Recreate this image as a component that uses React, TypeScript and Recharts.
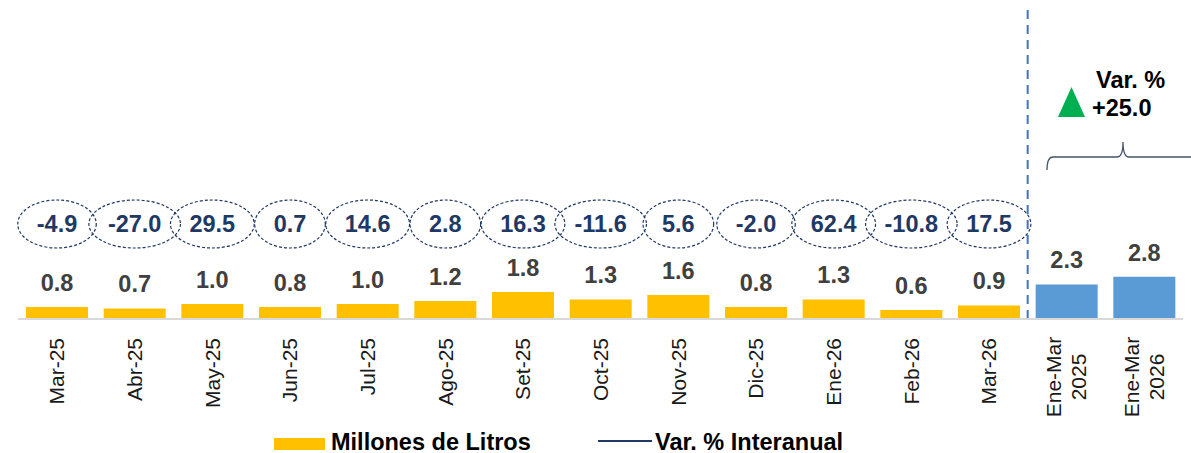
import { ComposedChart, Bar, XAxis, YAxis, Cell, LabelList, Legend, ReferenceLine } from "recharts";

const FONT = "'Liberation Sans', Arial, sans-serif";
const AMARILLO = "#FFC000";
const AZUL = "#5B9BD5";
const NAVY = "#1F3864";

const meses = [
  "Mar-25", "Abr-25", "May-25", "Jun-25", "Jul-25", "Ago-25", "Set-25",
  "Oct-25", "Nov-25", "Dic-25", "Ene-26", "Feb-26", "Mar-26",
  "Ene-Mar\n2025", "Ene-Mar\n2026",
];
const litros = [0.8, 0.7, 1.0, 0.8, 1.0, 1.2, 1.8, 1.3, 1.6, 0.8, 1.3, 0.6, 0.9, 2.3, 2.8];
const varInteranual = [-4.9, -27.0, 29.5, 0.7, 14.6, 2.8, 16.3, -11.6, 5.6, -2.0, 62.4, -10.8, 17.5];
const varAcumulada = "+25.0";

const data = meses.map((mes, i) => ({
  mes,
  litros: litros[i],
  var: i < varInteranual.length ? varInteranual[i] : null,
  acumulado: i >= varInteranual.length,
}));

// ancho aproximado de Arial bold para los numeros
function anchoTexto(s: string, fs: number) {
  let w = 0;
  for (const c of s) w += c === "." ? 0.278 : c === "-" ? 0.333 : 0.556;
  return w * fs;
}

function Elipse(props: any) {
  const { x, width, value } = props;
  if (value == null) return null;
  const txt = Number(value).toFixed(1);
  const cx = Number(x) + Number(width) / 2;
  const cy = 224;
  const rx = anchoTexto(txt, 23.5) / 2 + 19;
  return (
    <g>
      <ellipse cx={cx} cy={cy} rx={rx} ry={24} fill="none" stroke={NAVY} strokeWidth={1.2} strokeDasharray="3 2" />
      <text x={cx} y={cy} dy="0.36em" textAnchor="middle" fontFamily={FONT} fontWeight="bold" fontSize={23.5} fill={NAVY}>
        {txt}
      </text>
    </g>
  );
}

function MesTick({ x, y, payload }: any) {
  const lines = String(payload.value).split("\n");
  if (lines.length === 1) {
    return (
      <text transform={`translate(${x},${y + 19}) rotate(-90)`} textAnchor="end" dy="0.35em" fontFamily={FONT} fontSize={21} fill="#1a1a1a">
        {lines[0]}
      </text>
    );
  }
  return (
    <g transform={`translate(${x},${y + 58}) rotate(-90)`}>
      {lines.map((l, i) => (
        <text key={i} x={0} y={(i - (lines.length - 1) / 2) * 25} dy="0.35em" textAnchor="middle" fontFamily={FONT} fontSize={21} fill="#1a1a1a">
          {l}
        </text>
      ))}
    </g>
  );
}

function Leyenda() {
  return (
    <div style={{ position: "relative", width: 1191, height: 24, fontFamily: FONT, fontWeight: "bold", fontSize: 23.5, color: "#000" }}>
      <div style={{ position: "absolute", left: 274, top: 9, width: 51, height: 12, background: AMARILLO }} />
      <span style={{ position: "absolute", left: 331, top: 1, lineHeight: "24px", whiteSpace: "nowrap" }}>Millones de Litros</span>
      <div style={{ position: "absolute", left: 598, top: 11, width: 54, height: 2, background: NAVY }} />
      <span style={{ position: "absolute", left: 655, top: 1, lineHeight: "24px", whiteSpace: "nowrap" }}>Var. % Interanual</span>
    </div>
  );
}

export default function App() {
  return (
    <div style={{ position: "absolute", left: 0, top: 0, width: 1191, height: 453, background: "#fff", fontFamily: FONT }}>
      <ComposedChart width={1191} height={453} data={data} margin={{ top: 9, right: 8, left: 18, bottom: 0 }}>
        <XAxis
          dataKey="mes"
          interval={0}
          tickLine={false}
          tickSize={0}
          tickMargin={0}
          height={110}
          axisLine={{ stroke: "#D9D9D9", strokeWidth: 2 }}
          tick={<MesTick />}
        />
        <YAxis hide domain={[0, 20.6]} />
        <Bar dataKey="litros" barSize={62} isAnimationActive={false}>
          {data.map((d, i) => (
            <Cell key={i} fill={d.acumulado ? AZUL : AMARILLO} />
          ))}
          <LabelList
            dataKey="litros"
            position="top"
            offset={16}
            formatter={(v: any) => Number(v).toFixed(1)}
            fill="#404040"
            fontSize={23.5}
            fontWeight="bold"
            fontFamily={FONT}
          />
          <LabelList dataKey="var" content={<Elipse />} />
        </Bar>
        <ReferenceLine x="Mar-26" position="end" stroke="#4472C4" strokeWidth={2} strokeDasharray="9 6" />
        <Legend verticalAlign="bottom" content={<Leyenda />} wrapperStyle={{ left: 0, width: 1191, height: 24 }} />
      </ComposedChart>
      <svg width={1191} height={453} style={{ position: "absolute", left: 0, top: 0, pointerEvents: "none" }}>
        <path
          d="M1047,170 Q1047,157 1053,157 L1117,157 Q1123,157 1123,142 Q1123,157 1129,157 L1191,157"
          fill="none"
          stroke="#44546A"
          strokeWidth={1.3}
        />
        <polygon points="1058,117 1071.5,87 1085,117" fill="#00B050" />
        <text x={1096} y={88} fontFamily={FONT} fontWeight="bold" fontSize={23.5} fill="#000">Var. %</text>
        <text x={1092} y={116} fontFamily={FONT} fontWeight="bold" fontSize={23.5} fill="#000">{varAcumulada}</text>
      </svg>
    </div>
  );
}
